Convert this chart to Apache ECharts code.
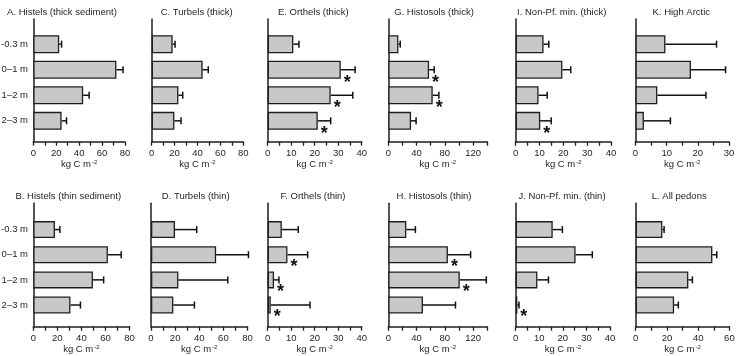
<!DOCTYPE html>
<html>
<head>
<meta charset="utf-8">
<script src="https://cdn.jsdelivr.net/npm/echarts@6/dist/echarts.min.js"></script>
<style>
    html, body { margin: 0; padding: 0; background: #fff; }
    #chart { width: 737px; height: 356px; }
</style>
</head>
<body>
<div id="chart"></div>
<script>
(function () {
    var depths = ['-0.3 m', '0–1 m', '1–2 m', '2–3 m'];

    // mean carbon stock and standard error per depth class (kg C m-2)
    var histelsThickMean = [22.6, 72.5, 43.5, 24.7];
    var histelsThickErr = [2.1, 5.8, 5.2, 4.3];
    var turbelsThickMean = [18.3, 44.5, 23.3, 19.8];
    var turbelsThickErr = [2.1, 4.9, 3.8, 5.8];
    var orthelsThickMean = [10.9, 31.1, 26.8, 21.3];
    var orthelsThickErr = [2.4, 6.1, 9.4, 5.5];
    var histosolsThickMean = [14.3, 57.7, 62.8, 32.2];
    var histosolsThickErr = [2.6, 7.2, 8.7, 7.1];
    var nonPfThickMean = [11.7, 19.6, 9.6, 10.3];
    var nonPfThickErr = [2.2, 3.5, 3.6, 4.6];
    var highArcticMean = [9.6, 17.8, 7.0, 2.7];
    var highArcticErr = [16.4, 11.1, 15.6, 8.5];

    var histelsThinMean = [18.0, 62.0, 49.6, 30.9];
    var histelsThinErr = [4.1, 11.1, 8.9, 8.3];
    var turbelsThinMean = [19.9, 54.0, 22.7, 18.5];
    var turbelsThinErr = [18.0, 26.8, 41.0, 17.5];
    var orthelsThinMean = [6.0, 8.4, 2.7, 1.3];
    var orthelsThinErr = [7.0, 8.6, 2.1, 16.7];
    var histosolsThinMean = [25.5, 84.3, 101.1, 49.0];
    var histosolsThinErr = [12.8, 32.1, 37.5, 46.0];
    var nonPfThinMean = [15.7, 25.4, 9.2, 0.7];
    var nonPfThinErr = [4.1, 7.1, 4.7, 0.7];
    var allPedonsMean = [17.1, 49.1, 33.7, 24.6];
    var allPedonsErr = [1.1, 2.8, 2.6, 2.7];

    // asterisk = significant difference
    var noStar = [0, 0, 0, 0];
    var orthelsThickStar = [0, 1, 1, 1];
    var histosolsThickStar = [0, 1, 1, 0];
    var nonPfThickStar = [0, 0, 0, 1];
    var orthelsThinStar = [0, 1, 1, 1];
    var histosolsThinStar = [0, 1, 1, 0];
    var nonPfThinStar = [0, 0, 0, 1];

    var titles = [
        'A. Histels (thick sediment)', 'C. Turbels (thick)', 'E. Orthels (thick)',
        'G. Histosols (thick)', 'I. Non-Pf. min. (thick)', 'K. High Arctic',
        'B. Histels (thin sediment)', 'D. Turbels (thin)', 'F. Orthels (thin)',
        'H. Histosols (thin)', 'J. Non-Pf. min. (thin)', 'L. All pedons'
    ];
    var means = [histelsThickMean, turbelsThickMean, orthelsThickMean, histosolsThickMean, nonPfThickMean, highArcticMean,
        histelsThinMean, turbelsThinMean, orthelsThinMean, histosolsThinMean, nonPfThinMean, allPedonsMean];
    var errs = [histelsThickErr, turbelsThickErr, orthelsThickErr, histosolsThickErr, nonPfThickErr, highArcticErr,
        histelsThinErr, turbelsThinErr, orthelsThinErr, histosolsThinErr, nonPfThinErr, allPedonsErr];
    var stars = [noStar, noStar, orthelsThickStar, histosolsThickStar, nonPfThickStar, noStar,
        noStar, noStar, orthelsThinStar, histosolsThinStar, nonPfThinStar, noStar];

    // axis extents per panel
    var axisMax = [80, 80, 40, 140, 40, 30, 80, 80, 40, 140, 40, 60];
    var tickStep = [10, 10, 5, 20, 5, 5, 10, 10, 5, 20, 5, 10];
    var labelStep = [20, 20, 10, 40, 10, 10, 20, 20, 10, 40, 10, 20];

    // layout
    var boxes = [
        [33.3, 125], [151.7, 243.3], [267.7, 361.7], [388.3, 487.3], [515.7, 611], [635.5, 729],
        [33.3, 129.5], [151, 247.5], [267.7, 361.7], [388.3, 487.3], [515.7, 610], [635.7, 729.4]
    ];
    var titleX = [62, 196.7, 313.3, 434, 561.7, 681.3, 68.3, 195.7, 313, 434, 562, 679.2];
    var rows = [
        {axisTop: 19, axisBottom: 141.7, bandTop: 31.4, bandBottom: 133.6, titleY: 12.7, barWidth: 18},
        {axisTop: 203.3, axisBottom: 326.7, bandTop: 217, bandBottom: 317.6, titleY: 196.7, barWidth: 17}
    ];

    var ink = '#1e1e1e';
    var font = '"Liberation Sans", Arial, sans-serif';

    var grid = [], xAxis = [], yAxis = [], series = [], graphic = [];

    titles.forEach(function (title, i) {
        var row = rows[i < 6 ? 0 : 1];
        var x0 = boxes[i][0], x1 = boxes[i][1];
        var g = grid.length;

        // frame grid: visible axes
        grid.push({left: x0, top: row.axisTop, width: x1 - x0, height: row.axisBottom - row.axisTop, outerBoundsMode: 'none'});
        // bar grid: category bands
        grid.push({left: x0, top: row.bandTop, width: x1 - x0, height: row.bandBottom - row.bandTop, outerBoundsMode: 'none'});

        xAxis.push({
            gridIndex: g, type: 'value', min: 0, max: axisMax[i], interval: tickStep[i],
            axisLine: {onZero: false, lineStyle: {color: ink, width: 1.5}},
            axisTick: {length: 4, lineStyle: {color: ink, width: 1.3}},
            splitLine: {show: false},
            axisLabel: {
                margin: 7, fontSize: 9.5, color: ink, fontFamily: font,
                formatter: (function (step) {
                    return function (v) { return v % step === 0 ? String(v) : ''; };
                })(labelStep[i])
            },
            name: '{a|kg C m}{s|-2}', nameLocation: 'middle', nameGap: 18,
            nameTextStyle: {
                fontFamily: font, color: ink,
                rich: {
                    a: {fontSize: 9.5, color: ink, fontFamily: font},
                    s: {fontSize: 6, color: ink, fontFamily: font, verticalAlign: 'top', padding: [0, 0, 4, 1]}
                }
            }
        });
        yAxis.push({
            gridIndex: g, type: 'value', min: 0, max: 1,
            axisLine: {show: true, onZero: false, lineStyle: {color: ink, width: 1.5}},
            axisTick: {show: false}, axisLabel: {show: false}, splitLine: {show: false}
        });

        xAxis.push({gridIndex: g + 1, type: 'value', min: 0, max: axisMax[i], show: false});
        yAxis.push({
            gridIndex: g + 1, type: 'category', inverse: true, data: depths,
            axisLine: {show: false}, axisTick: {show: false},
            axisLabel: {show: i === 0 || i === 6, margin: x0 - 28, fontSize: 9.5, color: ink, fontFamily: font}
        });

        series.push({
            type: 'bar', xAxisIndex: g + 1, yAxisIndex: g + 1,
            data: means[i], barWidth: row.barWidth, silent: true,
            itemStyle: {color: '#c8c8c8', borderColor: ink, borderWidth: 1.3}
        });

        var errData = means[i].map(function (m, k) {
            return [m, k, m + errs[i][k], stars[i][k]];
        });
        series.push({
            type: 'custom', xAxisIndex: g + 1, yAxisIndex: g + 1,
            data: errData, silent: true, encode: {x: [0, 2], y: 1},
            renderItem: (function (bw) {
                return function (params, api) {
                    var cat = api.value(1);
                    var p0 = api.coord([api.value(0), cat]);
                    var p1 = api.coord([api.value(2), cat]);
                    var st = {stroke: '#111', lineWidth: 1.5};
                    var children = [
                        {type: 'line', shape: {x1: p0[0], y1: p0[1], x2: p1[0], y2: p1[1]}, style: st},
                        {type: 'line', shape: {x1: p1[0], y1: p1[1] - 3.5, x2: p1[0], y2: p1[1] + 3.5}, style: st}
                    ];
                    if (api.value(3) === 1) {
                        children.push({
                            type: 'text', x: p0[0] + 6.5, y: p0[1] + bw / 2 + 4,
                            style: {text: '*', fill: '#111', font: 'bold 18px ' + font, align: 'center', verticalAlign: 'middle'}
                        });
                    }
                    return {type: 'group', children: children};
                };
            })(row.barWidth)
        });

        graphic.push({
            type: 'text', x: titleX[i], y: row.titleY, silent: true,
            style: {text: title, fill: ink, font: '9.5px ' + font, align: 'center', verticalAlign: 'middle'}
        });
    });

    var chart = echarts.init(document.getElementById('chart'), null, {renderer: 'canvas'});
    chart.setOption({
        animation: false,
        backgroundColor: '#fff',
        textStyle: {fontFamily: font},
        grid: grid,
        xAxis: xAxis,
        yAxis: yAxis,
        series: series,
        graphic: graphic
    });
})();
</script>
</body>
</html>
